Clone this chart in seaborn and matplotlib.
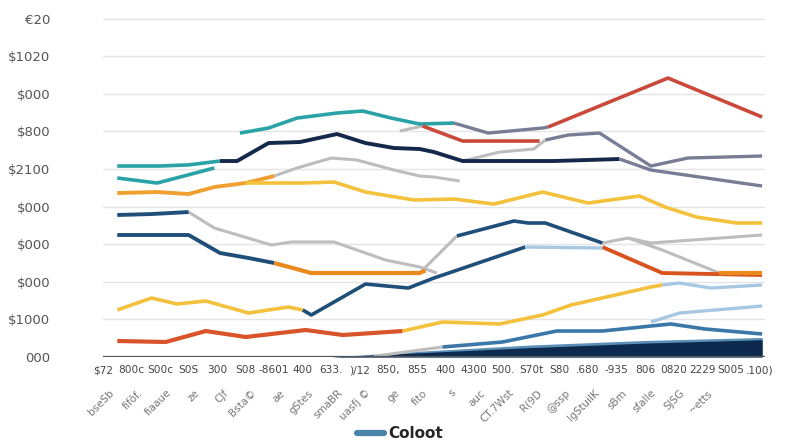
import matplotlib
matplotlib.use("Agg")
import matplotlib.pyplot as plt
import seaborn as sns
import pandas as pd
from matplotlib.lines import Line2D

sns.set_theme(style="white")
plt.rcParams['font.family'] = ['DejaVu Sans']

# ---- data -------------------------------------------------------------
x_tick_labels = ["$72", "800c", "S00c", "S0S", "300", "S08", "-8601", "400", "633.", ")/12",
                 "850,", "855", "400", "4300", "500.", "S70t", "S80", ".680", "-935", "806",
                 "0820", "2229", "S005", ".100)"]
x_sub_labels = ["bseSb", "fifõf.", "fiaaue", "ze", "CJf", "Bsta©", "ae", "gStes", "smaBR",
                "uasfj ©", "ge", "fito", "s", "auc", "CT.7Wst", "R(9D", "@ssp", "lgStuilK",
                "sBm", "sfalle", "SJSG", "~etts", "", ""]
y_tick_values = [0, 1000, 2000, 3000, 4000, 5000, 6000, 7000, 8000, 9000]
y_tick_labels = ["000", "$1000", "$000", "$000", "$000", "$2100", "$800", "$000", "$1020", "€20"]

# series segments: (colour, x positions, values)
teal_a_x = [0.5, 2.0, 3.0, 4.1];            teal_a_y = [5080, 5080, 5110, 5213]
teal_b_x = [0.5, 1.9, 3.9];                 teal_b_y = [4761, 4628, 5027]
navy_top_x = [4.1, 4.7, 5.8, 6.9, 8.2, 9.2, 10.2, 11.1, 11.6, 12.6, 15.8, 18.1]
navy_top_y = [5213, 5213, 5691, 5718, 5931, 5691, 5559, 5532, 5452, 5213, 5213, 5266]
slate_a_x = [18.1, 19.2, 23.1];             slate_a_y = [5266, 4973, 4548]
teal_c_x = [4.8, 5.8, 6.8, 8.2, 9.1, 10.1, 11.1, 12.3]
teal_c_y = [5957, 6090, 6356, 6489, 6543, 6356, 6197, 6223]
slate_b_x = [12.3, 13.5, 15.4, 15.6];      slate_b_y = [6223, 5957, 6090, 6117]
red_top_x = [15.6, 19.8, 23.1];            red_top_y = [6117, 7420, 6383]
red_mid_x = [11.2, 12.6, 15.3];            red_mid_y = [6144, 5745, 5745]
gray_short_x = [10.4, 11.2];               gray_short_y = [6011, 6144]
gray_rise_x = [12.6, 13.9, 15.1, 15.5];    gray_rise_y = [5213, 5452, 5532, 5771]
slate_c_x = [15.5, 16.3, 17.4, 19.2, 20.5, 23.1]
slate_c_y = [5771, 5904, 5957, 5080, 5293, 5346]
orange_a_x = [0.5, 1.9, 3.0, 3.9, 5.0, 6.0]
orange_a_y = [4362, 4388, 4335, 4521, 4628, 4814]
gray_a_x = [6.0, 6.8, 8.0, 8.9, 10.2, 11.1, 11.6, 12.5]
gray_a_y = [4814, 5027, 5293, 5239, 4973, 4814, 4787, 4681]
yellow_a_x = [5.0, 5.4, 7.0, 8.1, 9.2, 10.9, 12.3, 13.7, 15.4, 17.0, 18.8, 19.7, 20.8, 22.2, 23.1]
yellow_a_y = [4628, 4628, 4628, 4654, 4388, 4176, 4202, 4069, 4388, 4096, 4282, 3989, 3723, 3564, 3564]
navy_b_x = [0.5, 1.7, 3.0];                navy_b_y = [3777, 3803, 3856]
gray_b_x = [3.0, 3.9, 5.9, 6.6, 8.1, 9.9, 11.1, 11.7]
gray_b_y = [3856, 3431, 2979, 3059, 3059, 2580, 2394, 2234]
gray_c_x = [11.1, 12.4];                   gray_c_y = [2234, 3218]
navy_c_x = [12.4, 14.4, 14.9, 15.5, 17.5]; navy_c_y = [3218, 3617, 3564, 3564, 3032]
gray_d_x = [17.5, 18.4, 19.2, 23.1];       gray_d_y = [3032, 3165, 3032, 3245]
gray_e_x = [18.4, 19.6, 21.6];             gray_e_y = [3165, 2846, 2234]
redor_x = [17.5, 19.6, 23.1];              redor_y = [2926, 2234, 2181]
navy_d_x = [0.5, 3.0, 4.1, 5.1, 6.0];      navy_d_y = [3245, 3245, 2766, 2633, 2500]
orange_b_x = [6.0, 7.3, 11.1, 11.3];       orange_b_y = [2500, 2234, 2234, 2300]
orange_c_x = [21.6, 23.1];                 orange_c_y = [2234, 2234]
yellow_b_x = [0.5, 1.7, 2.6, 3.6, 5.1, 6.5, 7.0]
yellow_b_y = [1250, 1569, 1410, 1489, 1170, 1330, 1250]
navy_e_x = [7.0, 7.3, 9.2, 10.7, 11.6, 14.8]
navy_e_y = [1250, 1117, 1941, 1835, 2101, 2926]
lblue_a_x = [14.8, 17.5];                  lblue_a_y = [2926, 2899]
red_low_x = [0.5, 2.2, 3.6, 5.0, 7.1, 8.4, 10.5]
red_low_y = [426, 399, 691, 532, 718, 585, 691]
yellow_c_x = [10.5, 11.9, 13.9, 15.4, 16.4, 19.2, 19.6]
yellow_c_y = [691, 931, 878, 1117, 1383, 1862, 1915]
lblue_b_x = [19.6, 20.2, 21.3, 23.1];      lblue_b_y = [1915, 1968, 1835, 1915]
lblue_c_x = [19.2, 20.2, 23.1];            lblue_c_y = [931, 1170, 1356]
gray_f_x = [9.5, 11.9];                    gray_f_y = [20, 266]
steel_x = [11.9, 14.0, 15.9, 17.5, 19.2, 19.9, 21.1, 23.1]
steel_y = [266, 399, 691, 691, 824, 878, 745, 612]
area_x = [8.0, 11.0, 15.0, 19.0, 23.1]
area_dark_y = [0, 110, 250, 370, 460]
area_light_y = [0, 150, 320, 440, 520]

segments = [
    ("#bdbdbd", gray_short_x, gray_short_y, 2.2),
    ("#bdbdbd", gray_a_x, gray_a_y, 2.2),
    ("#bdbdbd", gray_b_x, gray_b_y, 2.2),
    ("#bdbdbd", gray_c_x, gray_c_y, 2.2),
    ("#bdbdbd", gray_d_x, gray_d_y, 2.2),
    ("#bdbdbd", gray_e_x, gray_e_y, 2.2),
    ("#bdbdbd", gray_rise_x, gray_rise_y, 2.2),
    ("#bdbdbd", gray_f_x, gray_f_y, 2.2),
    ("#2aa3a6", teal_a_x, teal_a_y, 2.6),
    ("#2aa3a6", teal_b_x, teal_b_y, 2.6),
    ("#2aa3a6", teal_c_x, teal_c_y, 2.6),
    ("#14284b", navy_top_x, navy_top_y, 2.8),
    ("#787d95", slate_a_x, slate_a_y, 2.4),
    ("#787d95", slate_b_x, slate_b_y, 2.4),
    ("#787d95", slate_c_x, slate_c_y, 2.4),
    ("#c94a3a", red_top_x, red_top_y, 2.6),
    ("#c94a3a", red_mid_x, red_mid_y, 2.6),
    ("#f0a030", orange_a_x, orange_a_y, 2.8),
    ("#f4c13d", yellow_a_x, yellow_a_y, 2.6),
    ("#1f4e79", navy_b_x, navy_b_y, 2.8),
    ("#1f4e79", navy_c_x, navy_c_y, 2.6),
    ("#d9531f", redor_x, redor_y, 2.8),
    ("#1f4e79", navy_d_x, navy_d_y, 2.8),
    ("#ea8a1e", orange_b_x, orange_b_y, 3.0),
    ("#ea8a1e", orange_c_x, orange_c_y, 3.0),
    ("#f4c13d", yellow_b_x, yellow_b_y, 2.6),
    ("#1f4e79", navy_e_x, navy_e_y, 2.6),
    ("#a7c8e3", lblue_a_x, lblue_a_y, 2.4),
    ("#d9532b", red_low_x, red_low_y, 3.0),
    ("#f4c13d", yellow_c_x, yellow_c_y, 2.6),
    ("#a7c8e3", lblue_b_x, lblue_b_y, 2.4),
    ("#a7c8e3", lblue_c_x, lblue_c_y, 2.4),
    ("#3b78a8", steel_x, steel_y, 2.6),
]

# ---- figure ----------------------------------------------------------
fig = plt.figure(figsize=(8, 4.45), dpi=100)
ax = fig.add_axes([103 / 800, 88 / 445, 662 / 800, 347 / 445])

for y in y_tick_values:
    ax.axhline(y, color="#e4e4e4", lw=1.0, zorder=0)

ax.fill_between(area_x, 0, area_light_y, color="#5b8fb8", lw=0, zorder=1)
ax.fill_between(area_x, 0, area_dark_y, color="#0d2a4e", lw=0, zorder=1.5)

for color, xs, ys, lw in segments:
    df = pd.DataFrame({"x": xs, "y": ys})
    sns.lineplot(data=df, x="x", y="y", color=color, lw=lw, sort=False,
                 estimator=None, ax=ax, zorder=2, solid_capstyle="butt")

ax.axhline(0, color="#555555", lw=1.6, zorder=3)

ax.set_xlim(0.2, 23.2)
ax.set_ylim(0, 9230)
ax.set_xticks(range(len(x_tick_labels)))
ax.set_xticklabels(x_tick_labels, fontsize=7.6, color="#444444")
ax.set_yticks(y_tick_values)
ax.set_yticklabels(y_tick_labels, fontsize=9.5, color="#555555")
ax.tick_params(axis="y", length=0, pad=38)
ax.tick_params(axis="x", length=0, pad=6)
ax.set_xlabel("")
ax.set_ylabel("")
for s in ax.spines.values():
    s.set_visible(False)

for i, lab in enumerate(x_sub_labels):
    if lab:
        ax.text(i + 0.2, -820, lab, rotation=45, ha="right", va="top",
                fontsize=7.5, color="#777777", rotation_mode="anchor")

handle = Line2D([0], [0], color="#4a84ab", lw=4.5)
fig.legend([handle], ["Coloot"], loc="center", bbox_to_anchor=(400 / 800, 1 - 434 / 445),
           frameon=False, prop={"weight": "bold", "size": 11}, handlelength=1.8,
           handletextpad=0.3)

fig.savefig("out.png", dpi=100, facecolor="white")
